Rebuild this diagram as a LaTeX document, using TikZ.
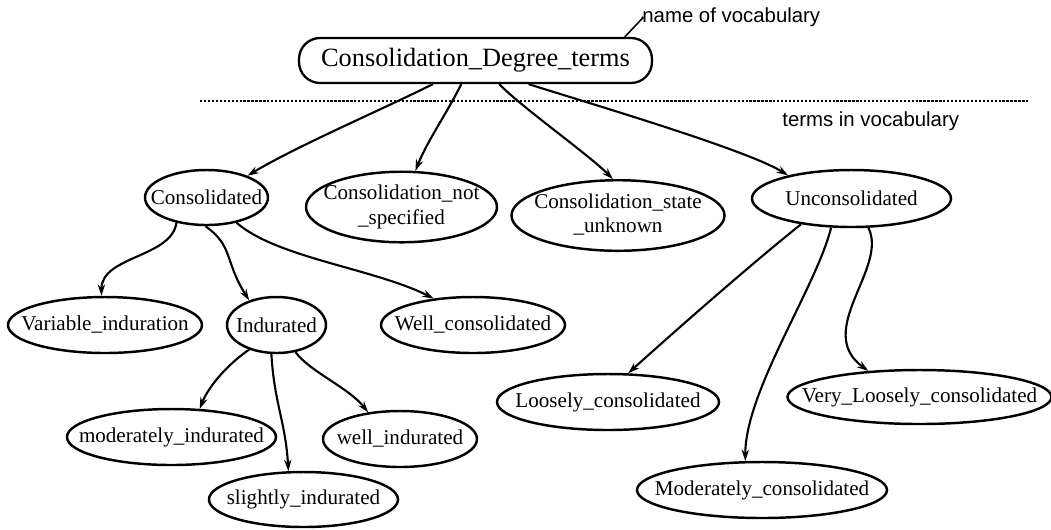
\documentclass[tikz,border=0pt]{standalone}
\usepackage{fontspec}
\setmainfont{Liberation Serif}
\setsansfont{Liberation Sans}
\usetikzlibrary{arrows.meta, shapes.geometric}
\newcommand{\tlabel}[1]{\makebox[0pt]{#1}}
\newcommand{\tlines}[2]{\makebox[0pt]{\begin{tabular}{@{}c@{}}#1\\#2\end{tabular}}}

\begin{document}
\begin{tikzpicture}[x=0.02cm, y=-0.02cm,
	term/.style 2 args={ellipse, draw, line width=1.4pt, inner sep=0pt, minimum width=#1*0.02cm, minimum height=#2*0.02cm, font=\fontsize{12}{14.2}\selectfont},
	vocab/.style={draw, line width=1.3pt, rounded corners=0.42cm, inner sep=0pt, minimum width=7.06cm, minimum height=0.9cm, font=\fontsize{15}{18}\selectfont},
	note/.style={inner sep=0pt, anchor=base west, font=\sffamily\fontsize{11.6}{14}\selectfont},
	link/.style={line width=1.2pt, -{Stealth[length=6.5pt, width=4.2pt]}}]
	\useasboundingbox (0,0) rectangle (1051,529);

	\node[vocab]				(root)		at (475.5,60.5)	{Consolidation\_Degree\_terms};
	\node[note]					(vname)		at (642,22)		{name of vocabulary};
	\node[note]					(vterms)	at (782,126)	{terms in vocabulary};
	\draw[line width=1.5pt, dash pattern=on 1.3pt off 0.95pt]	(200,101) -- (1030,101);
	\draw[line width=0.9pt]		(root.9) -- ++(18,-19) to[out=40, in=190] (vname.west);

	\node[term={123}{55}]		(cons)		at (206.5,197.5)	{\tlabel{Consolidated}};
	\node[term={191}{64}]		(notspec)	at (401.5,207)		{\tlines{Consolidation\_not}{\_specified}};
	\node[term={213}{69}]		(unknown)	at (618,215.5)		{\tlines{Consolidation\_state}{\_unknown}};
	\node[term={199}{57}]		(uncons)	at (851.5,198.5)	{\tlabel{Unconsolidated}};

	\node[term={194}{56}]		(varind)	at (105,325)		{\tlabel{Variable\_induration}};
	\node[term={99}{56}]		(indur)		at (276.5,325)		{\tlabel{Indurated}};
	\node[term={184}{56}]		(wellcons)	at (473,325)		{\tlabel{Well\_consolidated}};
	\node[term={209}{56}]		(modind)	at (171.5,437)		{\tlabel{moderately\_indurated}};
	\node[term={154}{56}]		(wellind)	at (400,439)		{\tlabel{well\_indurated}};
	\node[term={189}{55}]		(slind)		at (303.5,499.5)	{\tlabel{slightly\_indurated}};

	\node[term={222}{56}]		(loose)		at (608,402)		{\tlabel{Loosely\_consolidated}};
	\node[term={264}{54}]		(vloose)	at (919.5,397)		{\tlabel{Very\_Loosely\_consolidated}};
	\node[term={250}{56}]		(modcons)	at (762,490)		{\tlabel{Moderately\_consolidated}};

	\draw[link]	(root.209) .. controls +(-50,25) and +(50,-30) .. (cons.28);
	\draw[link]	(root.239) .. controls +(-15,30) and +(12,-30) .. (notspec.69);
	\draw[link]	(root.315) .. controls +(25,25) and +(-25,-25) .. (unknown.98);
	\draw[link]	(root.336) .. controls +(70,22) and +(-40,-25) .. (uncons.160);

	\draw[link]	(cons.220) .. controls +(-5,35) and +(0,-40) .. (varind.97);
	\draw[link]	(cons.268) .. controls +(28,20) and +(-25,-40) .. (indur.138);
	\draw[link]	(cons.320) .. controls +(40,35) and +(-60,-30) .. (wellcons.146);

	\draw[link]	(indur.222) .. controls +(-18,12) and +(10,-25) .. (modind.45);
	\draw[link]	(indur.260) .. controls +(3,50) and +(-3,-50) .. (slind.118);
	\draw[link]	(indur.305) .. controls +(15,20) and +(-20,-25) .. (wellind.140);

	\draw[link]	(uncons.207) .. controls +(-50,40) and +(50,-45) .. (loose.55);
	\draw[link]	(uncons.235) .. controls +(-15,60) and +(0,-70) .. (modcons.120);
	\draw[link]	(uncons.300) .. controls +(20,40) and +(-55,-40) .. (vloose.153);
\end{tikzpicture}
\end{document}
